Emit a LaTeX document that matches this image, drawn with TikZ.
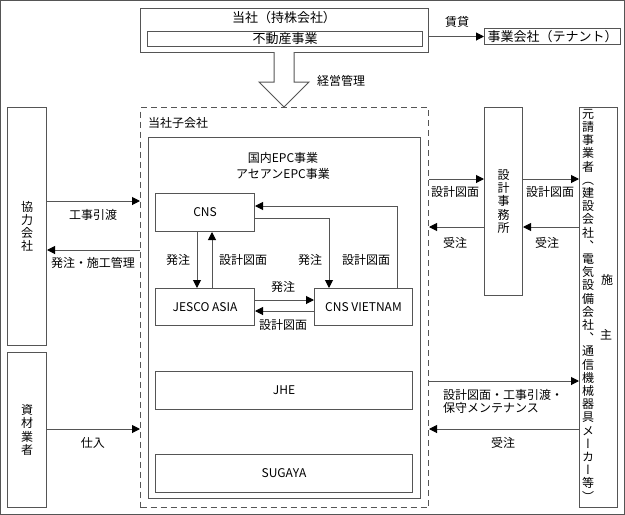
\documentclass[tikz,border=0pt]{standalone}
\usepackage{fontspec}
\setmainfont{Noto Sans CJK JP}
\newfontfamily\vjp[RawFeature=+vert]{Noto Sans CJK JP}
\usetikzlibrary{arrows.meta}
\definecolor{lc}{RGB}{85,85,85}
\begin{document}
\begin{tikzpicture}[x=1pt,y=-1pt,
  box/.style={draw=lc,line width=1pt,inner sep=0pt,anchor=north west,font=\fontsize{12}{13}\selectfont},
  arr/.style={draw=lc,line width=1pt,-{Triangle[length=8pt,width=8pt,color=black]}},
  lbl/.style={inner sep=0pt,font=\fontsize{12}{13}\selectfont},
  big/.style={font=\fontsize{13}{14}\selectfont},
  vt/.style={inner sep=0pt,align=center,font=\vjp\fontsize{12}{13.2}\selectfont}]
\useasboundingbox (0,0) rectangle (625,515);
\draw[lc,line width=1pt] (0.5,0.5) rectangle (624.5,514.5);

% holding company
\node[box,minimum width=288pt,minimum height=44pt] (hold) at (140,8) {};
\node[lbl,big] (holdt) at (284,18) {当社（持株会社）};
\node[box,big,minimum width=275pt,minimum height=15pt] (fudo) at (147,31) {不動産事業};
\node[box,big,minimum width=136pt,minimum height=16pt] (tenant) at (484,28) {事業会社（テナント）};
\draw[arr] (hold.east |- tenant.west) -- (tenant.west);
\node[lbl] (chin) at (457,22) {賃貸};

% management arrow
\draw[lc,line width=1pt,fill=white] (274,52) -- (274,82) -- (259,82) -- (284,107) -- (309,82) -- (294,82) -- (294,52);
\node[lbl] (keiei) at (341,81) {経営管理};

% subsidiaries
\node[box,dashed,dash pattern=on 6pt off 4pt,minimum width=288pt,minimum height=400pt] (sub) at (140,107) {};
\node[lbl,anchor=west] (subt) at (148,123) {当社子会社};
\node[box,minimum width=272pt,minimum height=361pt] (epc) at (148,137) {};
\node[lbl,align=center,font=\fontsize{12}{16}\selectfont] (epct) at (283,166) {国内EPC事業\\アセアンEPC事業};
\node[box,minimum width=99pt,minimum height=38pt] (cns) at (155,193) {CNS};
\node[box,minimum width=99pt,minimum height=37pt] (jesco) at (155,288) {JESCO ASIA};
\node[box,minimum width=98pt,minimum height=37pt] (viet) at (314,288) {CNS VIETNAM};
\node[box,minimum width=257pt,minimum height=38pt] (jhe) at (155,371) {JHE};
\node[box,minimum width=257pt,minimum height=38pt] (sugaya) at (155,454) {SUGAYA};

% side boxes
\node[box,minimum width=39pt,minimum height=238pt] (kyo) at (7,107) {};
\node[vt] (kyot) at (kyo.center) {協\\力\\会\\社};
\node[box,minimum width=39pt,minimum height=155pt] (shizai) at (7,352) {};
\node[vt] (shizait) at (shizai.center) {資\\材\\業\\者};
\node[box,minimum width=38pt,minimum height=188pt] (sekkei) at (484,107) {};
\node[vt] (sekkeit) at (sekkei.center) {設\\計\\事\\務\\所};
\node[box,minimum width=38pt,minimum height=400pt] (moto) at (579,107) {};
\node[vt,anchor=north] (motot) at (588,109) {元\\請\\事\\業\\者\\（\\建\\設\\会\\社\\、\\電\\気\\設\\備\\会\\社\\、\\通\\信\\機\\械\\器\\具\\メ\\ー\\カ\\ー\\等\\）};
\node[lbl] (se) at (607,280) {施};
\node[lbl] (shu) at (606,335) {主};

% helper coordinates
\coordinate (ya) at (0,201);
\coordinate (yb) at (0,250);
\coordinate (yc) at (0,429);
\coordinate (yd) at (0,179);
\coordinate (ye) at (0,227);
\coordinate (yf) at (0,381);
\coordinate (yg) at (0,429);
\coordinate (yh) at (0,206);
\coordinate (yi) at (0,218);
\coordinate (yj) at (0,300);
\coordinate (yk) at (0,311);
\coordinate (xa) at (197,0);
\coordinate (xb) at (212,0);
\coordinate (xc) at (329,0);
\coordinate (xd) at (397,0);

% outer connectors
\draw[arr] (kyo.east |- ya) -- (sub.west |- ya);
\draw[arr] (sub.west |- yb) -- (kyo.east |- yb);
\draw[arr] (shizai.east |- yc) -- (sub.west |- yc);
\draw[arr] (sub.east |- yd) -- (sekkei.west |- yd);
\draw[arr] (sekkei.east |- yd) -- (moto.west |- yd);
\draw[arr] (sekkei.west |- ye) -- (sub.east |- ye);
\draw[arr] (moto.west |- ye) -- (sekkei.east |- ye);
\draw[arr] (sub.east |- yf) -- (moto.west |- yf);
\draw[arr] (moto.west |- yg) -- (sub.east |- yg);

% inner connectors
\draw[arr] (cns.south -| xa) -- (jesco.north -| xa);
\draw[arr] (jesco.north -| xb) -- (cns.south -| xb);
\draw[arr] (jesco.east |- yj) -- (viet.west |- yj);
\draw[arr] (viet.west |- yk) -- (jesco.east |- yk);
\draw[arr] (viet.north -| xd) |- (cns.east |- yh);
\draw[arr] (cns.east |- yi) -| (viet.north -| xc);

% labels
\node[lbl] (l1) at (93,215) {工事引渡};
\node[lbl] (l2) at (93,263) {発注・施工管理};
\node[lbl] (l3) at (93,443) {仕入};
\node[lbl] (l4) at (455,192) {設計図面};
\node[lbl] (l5) at (455,243) {受注};
\node[lbl] (l6) at (550,192) {設計図面};
\node[lbl] (l7) at (547,243) {受注};
\node[lbl,anchor=west,align=left] (l8) at (443,401) {設計図面・工事引渡・\\保守メンテナンス};
\node[lbl] (l9) at (503,443) {受注};
\node[lbl] (m1) at (178,260) {発注};
\node[lbl] (m2) at (243,260) {設計図面};
\node[lbl] (m3) at (310,260) {発注};
\node[lbl] (m4) at (366,260) {設計図面};
\node[lbl] (m5) at (283,287) {発注};
\node[lbl] (m6) at (283,325) {設計図面};
\end{tikzpicture}
\end{document}
